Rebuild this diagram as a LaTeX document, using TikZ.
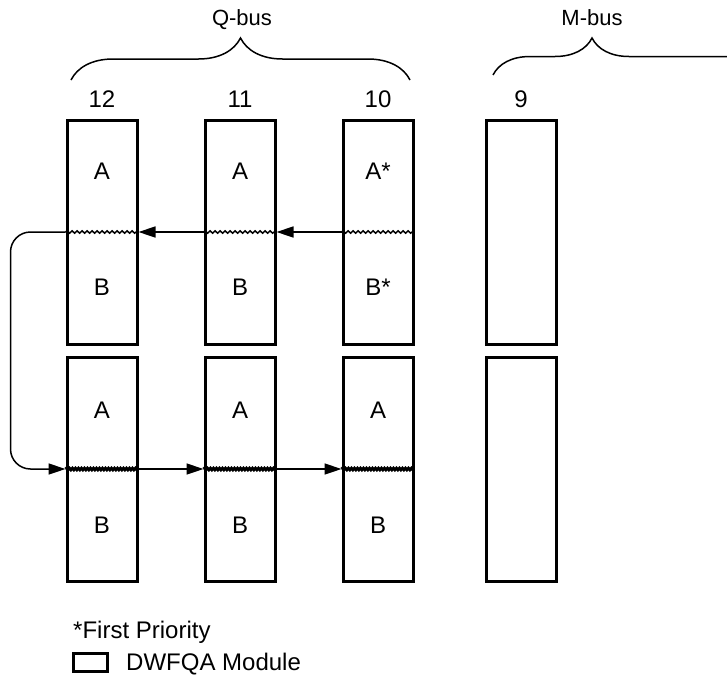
\documentclass[tikz,border=0pt]{standalone}
\usepackage{fontspec}
\setmainfont{Liberation Sans}
\usetikzlibrary{decorations.pathmorphing,decorations.pathreplacing,arrows.meta}

\begin{document}
\begin{tikzpicture}[x=1pt,y=-1pt,
  module/.style={draw,line width=3pt,minimum width=70pt,minimum height=224pt,inner sep=0pt},
  lbl/.style={font=\fontsize{24}{28}\selectfont,anchor=base,inner sep=0pt},
  buslbl/.style={font=\fontsize{22}{26}\selectfont,anchor=base,inner sep=0pt},
  upper/.style={decorate,decoration={snake,amplitude=1.2pt,segment length=5pt},line width=1.5pt},
  lower/.style={decorate,decoration={snake,amplitude=0.8pt,segment length=3pt},line width=3pt},
  flow/.style={line width=1.5pt,-{Triangle[length=17pt,width=11pt]}},
  bus/.style={decorate,decoration={brace,amplitude=#1},line width=1.5pt}]
\clip (0,0) rectangle (727,675);
\foreach \n/\x/\ta/\tb in {12/102/A/B,11/240/A/B,10/378/A*/B*}{
  \node[module] (t\n) at (\x,232) {};
  \node[module] (b\n) at (\x,469) {};
  \draw[upper] (t\n.west) -- (t\n.east);
  \draw[lower] (b\n.west) -- (b\n.east);
  \node[lbl] (nr\n) at (\x,107) {\n};
  \node[lbl] (ta\n) at (\x,179) {\ta};
  \node[lbl] (tb\n) at (\x,295) {\tb};
  \node[lbl] (ba\n) at (\x,418) {A};
  \node[lbl] (bb\n) at (\x,533) {B};
}
\node[module] (t9) at (521,232) {};
\node[module] (b9) at (521,469) {};
\node[lbl] (nr9) at (521,107) {9};
\draw[flow] (t10.west) -- (t11.east);
\draw[flow] (t11.west) -- (t12.east);
\draw[flow,rounded corners=20pt] (t12.west) -- ++(-55,0) |- (b12.west);
\draw[flow] (b12.east) -- (b11.west);
\draw[flow] (b11.east) -- (b10.west);
\draw[bus=42pt] (71,80) -- (410,80);
\node[buslbl] (qbus) at (242,25) {Q-bus};
\draw[bus=37pt,decoration={aspect=0.3225}] (493,75) -- (800,75);
\node[buslbl] (mbus) at (592,25) {M-bus};
\node[lbl,anchor=base west] (prio) at (73,638) {*First Priority};
\node[draw,line width=3pt,minimum width=34pt,minimum height=18pt,inner sep=0pt] (key) at (90,662) {};
\node[lbl,anchor=base west] (keytxt) at (126,670) {DWFQA Module};
\end{tikzpicture}
\end{document}
